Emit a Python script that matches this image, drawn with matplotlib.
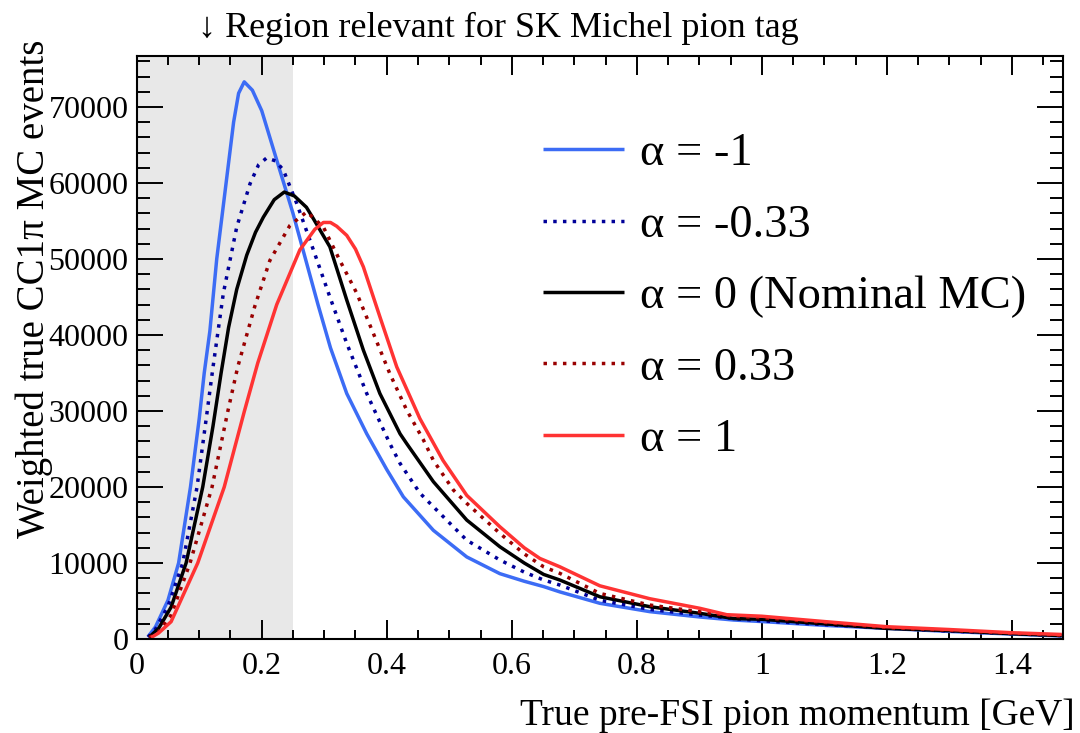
import matplotlib
matplotlib.use("Agg")
import matplotlib.pyplot as plt
from matplotlib.ticker import MultipleLocator

plt.rcParams['font.family'] = ['Liberation Serif', 'DejaVu Serif']

# ---------------- data ----------------
x_m1 = [0.018, 0.03, 0.05, 0.067, 0.086, 0.100, 0.108, 0.117, 0.128, 0.143, 0.155, 0.163, 0.172, 0.185,
        0.2, 0.224, 0.25, 0.27, 0.29, 0.31, 0.336, 0.368, 0.40, 0.4266, 0.4746, 0.528, 0.581,
        0.62, 0.651, 0.677, 0.741, 0.821, 0.901, 0.955, 1.0, 1.1, 1.2, 1.3, 1.4, 1.48]
y_m1 = [300, 1600, 5100, 10000, 20000, 29000, 35000, 40500, 50000, 60000, 68000, 71800, 73300, 72200,
        69500, 63000, 56000, 50000, 44000, 38300, 32300, 27000, 22300, 18700, 14300, 10800, 8600,
        7600, 6900, 6200, 4700, 3600, 2900, 2500, 2300, 1800, 1400, 1000, 650, 400]

x_m033 = [0.018, 0.03, 0.05, 0.0736, 0.0965, 0.112, 0.1216, 0.1386, 0.16, 0.1813, 0.195, 0.208, 0.222,
          0.2346, 0.256, 0.2826, 0.309, 0.336, 0.368, 0.405, 0.4213, 0.453, 0.4746, 0.528, 0.581,
          0.62, 0.65, 0.677, 0.741, 0.821, 0.901, 0.955, 1.0, 1.1, 1.2, 1.3, 1.4, 1.48]
y_m033 = [250, 1300, 4300, 10000, 20000, 29500, 35500, 45500, 54200, 59900, 62400, 63300, 62900,
          61700, 57300, 51200, 45000, 38900, 32300, 25700, 23100, 19200, 17400, 13000, 10400,
          8800, 7800, 7100, 5100, 3900, 3150, 2700, 2400, 1900, 1450, 1050, 700, 450]

x_0 = [0.02, 0.035, 0.055, 0.079, 0.1056, 0.122, 0.135, 0.147, 0.16, 0.176, 0.19, 0.2026, 0.22, 0.236,
       0.252, 0.2715, 0.2826, 0.309, 0.336, 0.3626, 0.389, 0.4213, 0.432, 0.4746, 0.528, 0.581, 0.62,
       0.651, 0.677, 0.741, 0.821, 0.901, 0.955, 1.0, 1.1, 1.2, 1.3, 1.4, 1.48]
y_0 = [250, 1400, 4200, 10000, 20000, 28000, 35000, 41000, 46000, 50500, 53500, 55500, 57800, 58800,
       58300, 56800, 55300, 51600, 44600, 38000, 32300, 27000, 25700, 20700, 15650, 12140, 10000,
       8500, 7760, 5560, 4250, 3380, 2700, 2600, 2000, 1400, 1100, 700, 450]

x_p033 = [0.02, 0.035, 0.055, 0.0853, 0.1205, 0.1456, 0.1616, 0.189, 0.213, 0.245, 0.272, 0.2986,
          0.325, 0.352, 0.3786, 0.405, 0.432, 0.4586, 0.4746, 0.5066, 0.528, 0.581, 0.62, 0.651,
          0.677, 0.741, 0.821, 0.901, 0.955, 1.0, 1.1, 1.2, 1.3, 1.4, 1.48]
y_p033 = [200, 950, 3150, 10000, 20000, 29900, 35800, 43800, 49800, 54400, 56200, 54200,
          49800, 45500, 40200, 34900, 30100, 26200, 23500, 19600, 17850, 13900, 11200, 9500,
          8640, 6000, 4470, 3590, 3000, 2800, 2200, 1500, 1150, 750, 500]

x_p1 = [0.023, 0.035, 0.055, 0.0976, 0.140, 0.172, 0.1936, 0.224, 0.261, 0.285, 0.2986, 0.31, 0.32,
        0.336, 0.35, 0.3626, 0.389, 0.416, 0.453, 0.49, 0.528, 0.581, 0.62, 0.645, 0.677, 0.741,
        0.821, 0.901, 0.944, 1.0, 1.1, 1.2, 1.3, 1.4, 1.48]
y_p1 = [200, 790, 2280, 10000, 20000, 29900, 36300, 44000, 51200, 53900, 54800, 54800, 54300,
        53100, 51300, 48960, 42400, 35800, 29000, 23500, 18900, 14770, 12000, 10600, 9500, 7000,
        5300, 4040, 3200, 3000, 2300, 1620, 1250, 830, 600]

labels = ["\u03b1 = -1", "\u03b1 = -0.33", "\u03b1 = 0 (Nominal MC)", "\u03b1 = 0.33", "\u03b1 = 1"]
region_max = 0.25

# ---------------- figure ----------------
fig = plt.figure(figsize=(10.8, 7.33), dpi=100)
ax = fig.add_axes([0.1266, 0.1282, 0.9843 - 0.1266, 0.9236 - 0.1282])

ax.axvspan(0, region_max, color='#e8e8e8', zorder=0, lw=0)

lw = 2.5
dot = (0, (1.0, 1.8))
common = dict(lw=lw, solid_joinstyle='round', solid_capstyle='butt')
ax.plot(x_m1, y_m1, color='#3c6cf5', label=labels[0], **common)
ax.plot(x_m033, y_m033, color='#000099', ls=dot, label=labels[1], **common)
ax.plot(x_0, y_0, color='black', label=labels[2], **common)
ax.plot(x_p033, y_p033, color='#990000', ls=dot, label=labels[3], **common)
ax.plot(x_p1, y_p1, color='#ff3333', label=labels[4], **common)

ax.set_xlim(0, 1.482)
ax.set_ylim(0, 76700)

ax.xaxis.set_minor_locator(MultipleLocator(0.05))
ax.yaxis.set_major_locator(MultipleLocator(10000))
ax.yaxis.set_minor_locator(MultipleLocator(2000))
ax.set_xticks([0, 0.2, 0.4, 0.6, 0.8, 1.0, 1.2, 1.4])
ax.set_xticklabels(['0', '0.2', '0.4', '0.6', '0.8', '1', '1.2', '1.4'])

ax.tick_params(axis='x', which='major', direction='in', top=True, length=13.5, width=1.4,
               labelsize=23, pad=9)
ax.tick_params(axis='x', which='minor', direction='in', top=True, length=6.5, width=1.4)
ax.tick_params(axis='y', which='major', direction='in', right=True, length=19, width=1.4,
               labelsize=23, pad=6)
ax.tick_params(axis='y', which='minor', direction='in', right=True, length=9.5, width=1.4)
for s in ax.spines.values():
    s.set_linewidth(1.5)

fig.text(1075 / 1080, 1 - 716 / 733, "True pre-FSI pion momentum [GeV]", ha='right', va='center',
         fontsize=27)
fig.text(34 / 1080, 1 - 40 / 733, "Weighted true CC1\u03c0 MC events", ha='center', va='top',
         rotation=90, fontsize=28)
fig.text(198 / 1080, 1 - 28 / 733, "\u2193 Region relevant for SK Michel pion tag", ha='left',
         va='center', fontsize=26)

leg = ax.legend(loc='upper left', bbox_to_anchor=(0.418, 0.9), frameon=False, fontsize=33.5,
                handlelength=1.75, handletextpad=0.35, labelspacing=0.62, borderaxespad=0)

fig.savefig("out.png", dpi=100)
